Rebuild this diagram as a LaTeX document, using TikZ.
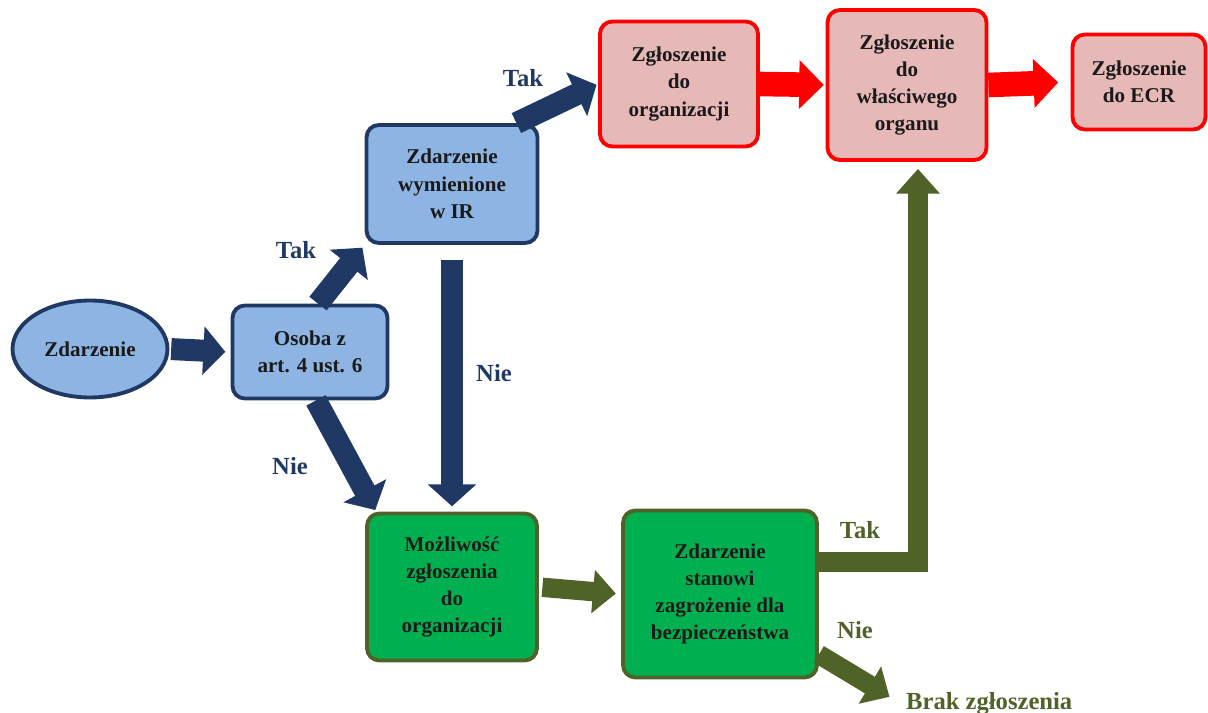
\documentclass[tikz,border=0pt]{standalone}
\usepackage{fontspec}
\setmainfont{Liberation Serif}
\usepackage{tikz}
\usetikzlibrary{arrows.meta,positioning,shapes.geometric}
\definecolor{navyline}{HTML}{1F3864}
\definecolor{bluefill}{HTML}{8DB4E2}
\definecolor{redline}{HTML}{FF0000}
\definecolor{redfill}{HTML}{E6B9B8}
\definecolor{greenfill}{HTML}{00B050}
\definecolor{oliveline}{HTML}{4F6228}
\definecolor{boxtext}{HTML}{1A1A1A}

\begin{document}
\begin{tikzpicture}[
    x=0.02cm, y=-0.02cm,
    every node/.style={font=\rmfamily\bfseries\fontsize{12}{15.5}\selectfont, align=center, text=boxtext},
    bluebox/.style={rectangle, rounded corners=7pt, fill=bluefill, draw=navyline, line width=2.2pt},
    redbox/.style={rectangle, rounded corners=7pt, fill=redfill, draw=redline, line width=2.2pt},
    greenbox/.style={rectangle, rounded corners=7pt, fill=greenfill, draw=oliveline, line width=2.2pt},
    navyarrow/.style={draw=navyline, line width=12.5pt, -{Triangle[width=27pt,length=12.5pt]}},
    redarrow/.style={draw=redline, line width=14pt, -{Triangle[width=27pt,length=14pt]}},
    greenarrow/.style={draw=oliveline, line width=11pt, -{Triangle[width=24pt,length=13pt]}},
    navylabel/.style={font=\rmfamily\bfseries\fontsize{14}{16}\selectfont, text=navyline},
    greenlabel/.style={font=\rmfamily\bfseries\fontsize{14}{16}\selectfont, text=oliveline}
]
    \useasboundingbox (0,0) rectangle (1208,713);

    % === START ===
    \node[ellipse, fill=bluefill, draw=navyline, line width=2.2pt, inner sep=0pt,
          minimum width=3.1cm, minimum height=1.94cm] (zdarz) at (90,349) {Zdarzenie};
    \node[bluebox, minimum width=3.1cm, minimum height=1.86cm] (osoba) at (310,352) {Osoba z\\art. 4 ust. 6};
    \node[bluebox, minimum width=3.42cm, minimum height=2.36cm] (ir) at (452,184) {Zdarzenie\\wymienione\\w IR};

    % === REPORTING CHAIN ===
    \node[redbox, minimum width=3.16cm, minimum height=2.5cm] (zgorg) at (679,84) {Zgłoszenie\\do\\organizacji};
    \node[redbox, minimum width=3.18cm, minimum height=3.0cm] (organ) at (907,85) {Zgłoszenie\\do\\właściwego\\organu};
    \node[redbox, minimum width=2.66cm, minimum height=1.9cm] (ecr) at (1139,82) {Zgłoszenie\\do ECR};

    % === VOLUNTARY PATH ===
    \node[greenbox, minimum width=3.4cm, minimum height=2.94cm] (mozl) at (452,587) {Możliwość\\zgłoszenia\\do\\organizacji};
    \node[greenbox, minimum width=3.88cm, minimum height=3.34cm] (zagr) at (720,594) {Zdarzenie\\stanowi\\zagrożenie dla\\bezpieczeństwa};
    \node[greenlabel, anchor=base west] (brak) at (900,709) {Brak zgłoszenia};

    % === ARROWS ===
    \draw[navyarrow, shorten <=1pt, shorten >=3pt] (zdarz.east) -- (osoba.west);
    \draw[navyarrow, shorten >=2pt] ([xshift=0.16cm]osoba.north) -- (ir.south west);
    \draw[navyarrow, shorten >=1pt] ([xshift=0.12cm]osoba.south) -- ([xshift=0.22cm]mozl.north west);
    \draw[navyarrow, shorten >=3pt] ([yshift=-0.3cm]ir.south) -- (mozl.north);
    \draw[navyarrow, shorten >=1pt] ([xshift=-0.46cm]ir.north east) -- (zgorg.west);

    \draw[redarrow, shorten >=1pt] (zgorg.east) -- (organ.west);
    \draw[redarrow, shorten >=7pt] (organ.east) -- (ecr.west);

    \draw[greenarrow, shorten <=2pt, shorten >=3pt] (mozl.east) -- (zagr.west);
    \draw[greenarrow, -{Triangle[width=24pt,length=14pt]}, shorten >=4pt]
        ([yshift=0.64cm]zagr.east) -| ([xshift=0.22cm]organ.south);
    \draw[greenarrow, shorten >=7pt] ([yshift=0.5cm]zagr.south east) -- (brak.west);

    % === BRANCH LABELS ===
    \node[navylabel] (takA) at (296,250) {Tak};
    \node[navylabel] (nieA) at (290,466) {Nie};
    \node[navylabel] (nieB) at (494,373) {Nie};
    \node[navylabel] (takB) at (523,78) {Tak};
    \node[greenlabel] (takC) at (860,530) {Tak};
    \node[greenlabel] (nieC) at (855,630) {Nie};
\end{tikzpicture}
\end{document}
